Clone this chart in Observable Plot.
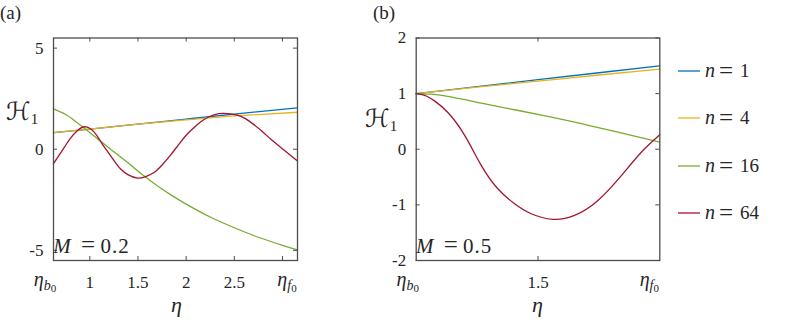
<!DOCTYPE html>
<html><head><meta charset="utf-8">
<script src="https://cdn.jsdelivr.net/npm/d3@7"></script>
<script src="https://cdn.jsdelivr.net/npm/@observablehq/plot@0.6"></script>
<style>
body{margin:0;background:#fff;}
#wrap{position:relative;width:789px;height:324px;font-family:'Liberation Serif';color:#262626;overflow:hidden;}
.abs{position:absolute;white-space:nowrap;line-height:1;font-family:'Liberation Serif';}
svg text{font-family:'Liberation Serif';}
</style></head><body><div id="wrap"></div>
<script>
// ---------- data ----------
const seriesN = [1, 4, 16, 64];
const seriesColors = ["#0072BD", "#EDB120", "#77AC30", "#A2142F"];

// panel (a), M = 0.2
const aXDomain = [0.623, 3.156];
const aYDomain = [-5.5, 5.5];
const aXTicks = [1, 1.5, 2, 2.5, 3];
const aXTickLabels = [1, 1.5, 2, 2.5];
const aYTicks = [-5, 0, 5];
const aEtaLin = [0.623, 1.0, 1.5, 2.0, 2.5, 3.156];
const aN1 = [0.82, 1.0, 1.245, 1.49, 1.74, 2.05];
const aN4 = [0.82, 1.0, 1.24, 1.45, 1.645, 1.83];
const aEta16 = [0.623, 0.75, 0.85, 0.993, 1.1, 1.2, 1.32, 1.45, 1.547, 1.7, 1.85, 2.0, 2.25, 2.5, 2.75, 3.0, 3.156];
const aN16 = [2.0, 1.72, 1.38, 0.85, 0.44, 0.06, -0.38, -0.88, -1.26, -1.80, -2.28, -2.71, -3.35, -3.88, -4.35, -4.75, -4.98];
const aEta64 = [0.623, 0.68, 0.74, 0.80, 0.87, 0.958, 1.05, 1.12, 1.18, 1.25, 1.32, 1.40, 1.495, 1.58, 1.667, 1.75, 1.84, 1.92, 2.01, 2.10, 2.186, 2.29, 2.393, 2.53, 2.62, 2.70, 2.79, 2.88, 2.97, 3.05, 3.156];
const aN64 = [-0.71, -0.30, 0.13, 0.55, 0.92, 1.11, 0.82, 0.33, -0.08, -0.55, -0.98, -1.27, -1.43, -1.35, -1.15, -0.78, -0.28, 0.22, 0.74, 1.15, 1.47, 1.70, 1.77, 1.69, 1.50, 1.23, 0.88, 0.49, 0.14, -0.17, -0.58];

// panel (b), M = 0.5
const bXDomain = [1, 2];
const bYDomain = [-2, 2];
const bXTicks = [1.5];
const bXTickLabels = [1.5];
const bYTicks = [-2, -1, 0, 1, 2];
const bEtaLin = [1, 1.25, 1.5, 1.75, 2];
const bN1 = [1.0, 1.125, 1.25, 1.375, 1.50];
const bN4 = [1.0, 1.115, 1.225, 1.335, 1.44];
const bEta16 = [1.0, 1.06, 1.13, 1.267, 1.404, 1.54, 1.678, 1.815, 2.0];
const bN16 = [1.0, 0.99, 0.95, 0.83, 0.71, 0.59, 0.46, 0.32, 0.13];
const bEta64 = [1.0, 1.035, 1.075, 1.13, 1.199, 1.267, 1.335, 1.404, 1.472, 1.561, 1.65, 1.746, 1.843, 1.925, 2.0];
const bN64 = [1.0, 0.97, 0.87, 0.66, 0.25, -0.29, -0.71, -0.98, -1.16, -1.26, -1.19, -0.92, -0.47, -0.05, 0.26];

const panelLabels = ["(a)", "(b)"];
const mLabels = ["0.2", "0.5"];

// ---------- helpers ----------
const SERIF = "'Liberation Serif'";
const rows = (etas, vals) => etas.map((e, i) => ({eta: e, h: vals[i]}));
const AX = "#4d4d4d";
const TXT = "#262626";

function panel(o) {
  const H = 324, mt = 37.5, mb = 64;
  const fh = H - mt - mb, fw = o.width - o.ml - o.mr, tl = 4;
  const svg = Plot.plot({
    width: o.width, height: H,
    marginLeft: o.ml, marginRight: o.mr, marginTop: mt, marginBottom: mb,
    style: {fontFamily: SERIF, fontSize: "17px", color: TXT, background: "transparent", overflow: "visible"},
    x: {domain: o.xdom},
    y: {domain: o.ydom},
    marks: [
      ...o.lines.map((l, i) => Plot.line(l, {x: "eta", y: "h", stroke: seriesColors[i], strokeWidth: 1.3, curve: "natural"})),
      Plot.ruleX(o.xticks, {x: d => d, insetTop: fh - tl, stroke: AX}),
      Plot.ruleX(o.xticks, {x: d => d, insetBottom: fh - tl, stroke: AX}),
      Plot.ruleY(o.yticks, {y: d => d, insetRight: fw - tl, stroke: AX}),
      Plot.ruleY(o.yticks, {y: d => d, insetLeft: fw - tl, stroke: AX}),
      Plot.axisX({ticks: o.xlabels, tickSize: 0, tickPadding: 15, tickFormat: d => String(d), label: null}),
      Plot.axisY({ticks: o.yticks, tickSize: 0, tickPadding: 10, tickFormat: d => String(d), label: null}),
      Plot.frame({stroke: AX, strokeWidth: 1.3})
    ]
  });
  const xs = svg.scale("x");
  const left = xs.apply(o.xdom[0]), right = xs.apply(o.xdom[1]);
  const s = d3.select(svg);
  s.selectAll("text").style("font-family", SERIF);
  // eta_b0 / eta_f0 end labels
  function etaLab(x, sub) {
    const t = s.append("text").attr("x", x).attr("y", 286).attr("fill", TXT)
      .style("font-family", SERIF).style("font-size", "20px").style("font-style", "italic");
    t.append("tspan").text("η");
    t.append("tspan").style("font-size", "14px").attr("dy", 4).text(sub);
    t.append("tspan").style("font-size", "11px").style("font-style", "normal").attr("dy", 2).text("0");
  }
  etaLab(left - 8, "b");
  etaLab(right - 10, "f");
  // M label
  const ybase = svg.scale("y").apply(o.ydom[0]) - 7;
  const m = s.append("text").attr("y", ybase).attr("fill", TXT).style("font-family", SERIF).style("font-size", "21px");
  m.append("tspan").attr("x", left + 9).style("font-style", "italic").text("M");
  m.append("tspan").attr("x", left + 35).style("font-size", "25px").text("=");
  m.append("tspan").attr("x", left + 62).style("letter-spacing", "1px").text(o.mText);
  return svg;
}

const wrap = document.getElementById("wrap");
function place(el, left, top) {
  el.style.position = "absolute"; el.style.left = left + "px"; el.style.top = top + "px";
  wrap.appendChild(el);
}

const svgA = panel({
  width: 380, ml: 53, mr: 83, xdom: aXDomain, ydom: aYDomain,
  xticks: aXTicks, xlabels: aXTickLabels, yticks: aYTicks,
  lines: [rows(aEtaLin, aN1), rows(aEtaLin, aN4), rows(aEta16, aN16), rows(aEta64, aN64)],
  mText: mLabels[0]
});
place(svgA, 0, 0);

const svgB = panel({
  width: 290, ml: 35.7, mr: 10.7, xdom: bXDomain, ydom: bYDomain,
  xticks: bXTicks, xlabels: bXTickLabels, yticks: bYTicks,
  lines: [rows(bEtaLin, bN1), rows(bEtaLin, bN4), rows(bEta16, bN16), rows(bEta64, bN64)],
  mText: mLabels[1]
});
place(svgB, 380, 0);

// text overlays
function html(txt, left, top, css) {
  const d = document.createElement("div");
  d.className = "abs"; d.innerHTML = txt;
  d.style.left = left + "px"; d.style.top = top + "px";
  Object.assign(d.style, css || {});
  wrap.appendChild(d);
  return d;
}
html(panelLabels[0], 0, 3, {fontSize: "19px"});
html(panelLabels[1], 373, 3, {fontSize: "19px"});
const hLab = '<span style="font-family:\'DejaVu Sans\';font-size:25px">ℋ</span><span style="font-size:15px;position:relative;top:4px">1</span>';
html(hLab, 6, 99);
html(hLab, 365, 106);
html('<i>η</i>', 171, 294, {fontSize: "22px"});
html('<i>η</i>', 532, 294, {fontSize: "22px"});

// legend
const legY = [71, 118.3, 166, 213.3];
seriesN.forEach((n, i) => {
  const sw = document.createElementNS("http://www.w3.org/2000/svg", "svg");
  sw.setAttribute("width", 24); sw.setAttribute("height", 6);
  const ln = document.createElementNS("http://www.w3.org/2000/svg", "line");
  ln.setAttribute("x1", 1); ln.setAttribute("x2", 23); ln.setAttribute("y1", 3); ln.setAttribute("y2", 3);
  ln.setAttribute("stroke", seriesColors[i]); ln.setAttribute("stroke-width", 1.3);
  sw.appendChild(ln);
  place(sw, 677, legY[i] - 3);
  html('<i>n</i>', 705, legY[i] - 11, {fontSize: "20px"});
  html('=', 719, legY[i] - 13, {fontSize: "25px"});
  html(String(n), 740, legY[i] - 10, {fontSize: "19px"});
});
</script></body></html>
